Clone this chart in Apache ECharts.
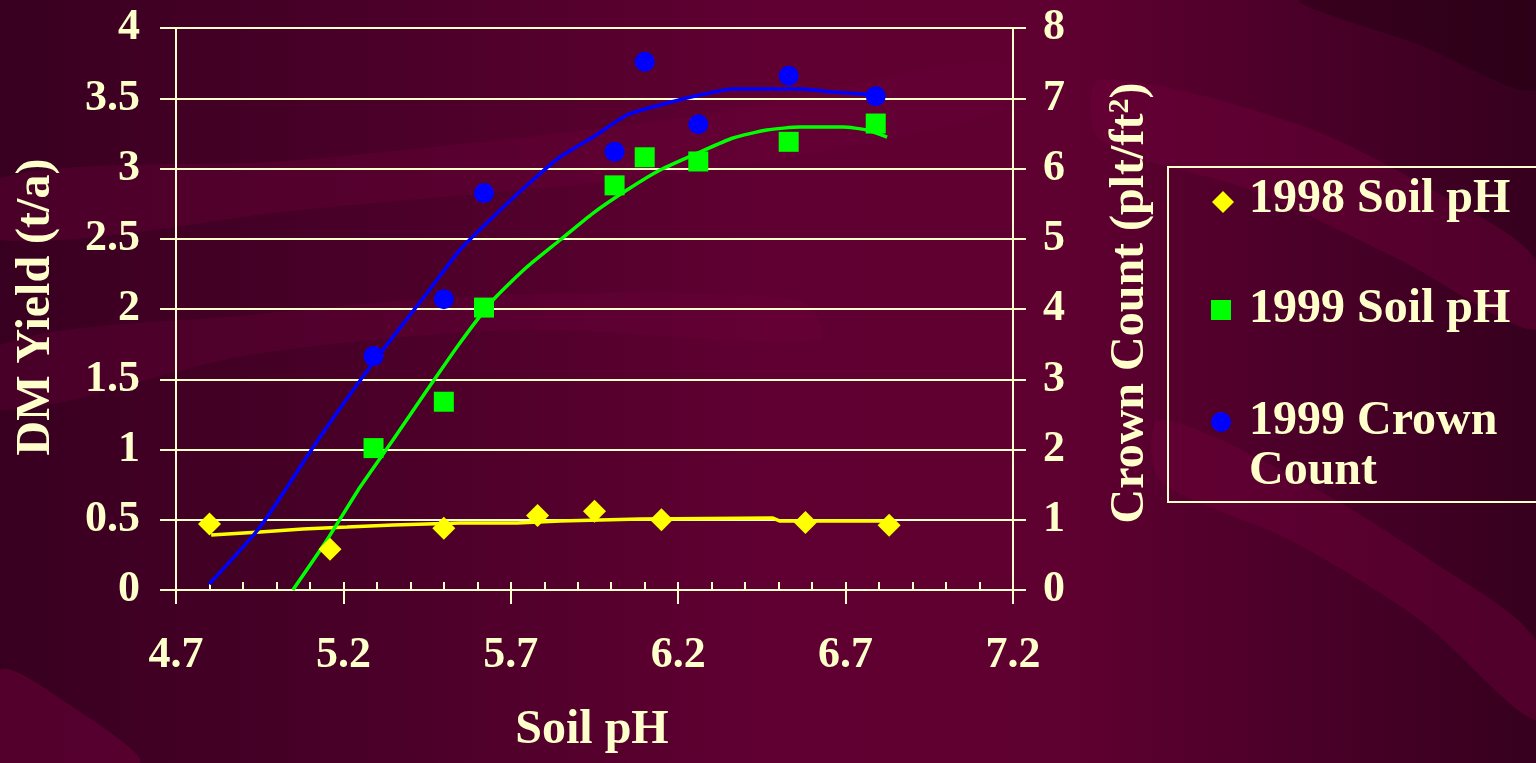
<!DOCTYPE html>
<html>
<head>
<meta charset="utf-8">
<script src="https://cdn.jsdelivr.net/npm/echarts@6/dist/echarts.min.js"></script>
<style>
html,body{margin:0;padding:0;background:#3a0020;}
#chart{width:1536px;height:763px;}
</style>
</head>
<body>
<div id="chart"></div>
<script>
// ---- data ----
const ph1998 = [4.80, 5.16, 5.50, 5.78, 5.95, 6.15, 6.58, 6.83];
const yield1998 = [0.47, 0.29, 0.44, 0.53, 0.56, 0.50, 0.48, 0.46];

const ph1999 = [5.29, 5.50, 5.62, 6.01, 6.10, 6.26, 6.53, 6.79];
const yield1999 = [1.01, 1.34, 2.01, 2.88, 3.08, 3.05, 3.19, 3.32];

const phCrown = [5.29, 5.50, 5.62, 6.01, 6.10, 6.26, 6.53, 6.79];
const crown1999 = [3.33, 4.14, 5.65, 6.24, 7.52, 6.63, 7.32, 7.03];

// trend lines
const trend1998X = [4.805, 4.951, 5.079, 5.211, 5.348, 5.548, 5.719, 5.847, 6.086, 6.483, 6.504, 6.812];
const trend1998Y = [0.391, 0.413, 0.434, 0.448, 0.463, 0.477, 0.477, 0.491, 0.505, 0.512, 0.491, 0.491];

const trend1999X = [5.049, 5.151, 5.250, 5.348, 5.450, 5.548, 5.647, 5.748, 5.847, 5.946, 6.047, 6.146, 6.265, 6.364, 6.465, 6.564, 6.692, 6.764, 6.824];
const trend1999Y = [0.00, 0.356, 0.733, 1.068, 1.423, 1.758, 2.064, 2.299, 2.491, 2.683, 2.847, 2.989, 3.117, 3.217, 3.274, 3.295, 3.295, 3.274, 3.224];

const trendCrownX = [4.799, 4.951, 5.130, 5.288, 5.450, 5.548, 5.647, 5.749, 5.847, 5.946, 6.047, 6.146, 6.265, 6.364, 6.564, 6.662, 6.794];
const trendCrownY = [0.085, 0.897, 2.178, 3.231, 4.228, 4.840, 5.310, 5.765, 6.164, 6.448, 6.762, 6.904, 7.046, 7.132, 7.132, 7.089, 7.046];

const xMin = 4.7, xMax = 7.2, xStep = 0.5;
const yLeftMax = 4, yLeftStep = 0.5;
const yRightMax = 8, yRightStep = 1;

const seriesNames = ['1998 Soil pH', '1999 Soil pH', '1999 Crown\nCount'];
const xTitle = 'Soil pH';
const yLeftTitle = 'DM Yield (t/a)';

// ---- styling ----
const CREAM = '#FFFFCC';
const FONT = '"Liberation Serif", "Times New Roman", serif';
const zip = (a, b) => a.map((v, i) => [v, b[i]]);

const chart = echarts.init(document.getElementById('chart'), null, {renderer: 'canvas'});

const axisLbl = {color: CREAM, fontFamily: FONT, fontWeight: 'bold', fontSize: 44};
const band = (pts, fill) => ({type: 'polygon', z: -10, silent: true, shape: {points: pts, smooth: 0.3}, style: {fill: fill}});

const option = {
  animation: false,
  backgroundColor: {
    type: 'linear', x: 0, y: 0, x2: 1, y2: 0,
    colorStops: [
      {offset: 0, color: '#380020'},
      {offset: 0.3, color: '#4e002a'},
      {offset: 0.5, color: '#600032'},
      {offset: 0.7, color: '#5e0030'},
      {offset: 0.85, color: '#4a0028'},
      {offset: 1, color: '#36001e'}
    ]
  },
  grid: {left: 176, right: 523, top: 28, bottom: 173, containLabel: false},
  xAxis: [
    {
      type: 'value', min: xMin, max: xMax, interval: xStep, position: 'bottom',
      axisLine: {show: true, onZero: false, lineStyle: {color: CREAM, width: 2}},
      axisTick: {show: true, inside: true, length: 8, lineStyle: {color: CREAM, width: 2}},
      minorTick: {show: true, splitNumber: 5, length: 8, lineStyle: {color: CREAM, width: 2}},
      splitLine: {show: false},
      axisLabel: Object.assign({margin: 44, formatter: v => v.toFixed(1)}, axisLbl)
    },
    {
      type: 'value', min: xMin, max: xMax, interval: xStep, position: 'bottom',
      axisLine: {show: false, onZero: false},
      axisTick: {show: true, inside: false, length: 14, lineStyle: {color: CREAM, width: 2}},
      splitLine: {show: false},
      axisLabel: {show: false}
    }
  ],
  yAxis: [
    {
      type: 'value', min: 0, max: yLeftMax, interval: yLeftStep, position: 'left',
      axisLine: {show: true, onZero: false, lineStyle: {color: CREAM, width: 2}},
      axisTick: {show: true, inside: false, length: 16, lineStyle: {color: CREAM, width: 2}},
      splitLine: {show: true, lineStyle: {color: CREAM, width: 2}},
      axisLabel: Object.assign({margin: 36}, axisLbl)
    },
    {
      type: 'value', min: 0, max: yRightMax, interval: yRightStep, position: 'right',
      axisLine: {show: true, onZero: false, lineStyle: {color: CREAM, width: 2}},
      axisTick: {show: true, inside: false, length: 13, lineStyle: {color: CREAM, width: 2}},
      splitLine: {show: false},
      axisLabel: Object.assign({margin: 30}, axisLbl)
    }
  ],
  series: [
    {name: 'trend1998', type: 'line', xAxisIndex: 0, yAxisIndex: 0, data: zip(trend1998X, trend1998Y),
     showSymbol: false, silent: true, lineStyle: {color: '#FFFF00', width: 3.5, opacity: 1}, z: 3},
    {name: 'trend1999', type: 'line', xAxisIndex: 0, yAxisIndex: 0, data: zip(trend1999X, trend1999Y),
     showSymbol: false, silent: true, smooth: 0.2, lineStyle: {color: '#00FF00', width: 3.5, opacity: 1}, z: 3},
    {name: 'trendCrown', type: 'line', xAxisIndex: 0, yAxisIndex: 1, data: zip(trendCrownX, trendCrownY),
     showSymbol: false, silent: true, smooth: 0.2, lineStyle: {color: '#0000FF', width: 3.5, opacity: 1}, z: 3},
    {name: seriesNames[0], type: 'scatter', xAxisIndex: 0, yAxisIndex: 0, data: zip(ph1998, yield1998),
     symbol: 'diamond', symbolSize: 23, itemStyle: {color: '#FFFF00', opacity: 1}, z: 5},
    {name: seriesNames[1], type: 'scatter', xAxisIndex: 0, yAxisIndex: 0, data: zip(ph1999, yield1999),
     symbol: 'rect', symbolSize: 20, itemStyle: {color: '#00FF00', opacity: 1}, z: 5},
    {name: seriesNames[2], type: 'scatter', xAxisIndex: 0, yAxisIndex: 1, data: zip(phCrown, crown1999),
     symbol: 'circle', symbolSize: 20, itemStyle: {color: '#0000FF', opacity: 1}, z: 5}
  ],
  graphic: [
    // decorative background bands
    band([[0,178],[300,160],[700,115],[1000,60],[1000,110],[700,170],[300,210],[0,240]], 'rgba(110,0,58,0.35)'),
    band([[0,345],[250,315],[500,295],[800,300],[820,340],[520,330],[250,355],[0,410]], 'rgba(110,0,58,0.30)'),
    band([[0,670],[70,705],[140,763],[0,763]], 'rgba(110,0,58,0.5)'),
    band([[1100,80],[1300,125],[1450,200],[1536,260],[1536,330],[1400,260],[1250,190],[1100,140]], 'rgba(110,0,58,0.45)'),
    band([[1160,420],[1300,480],[1430,560],[1536,640],[1536,720],[1420,620],[1290,540],[1160,480]], 'rgba(110,0,58,0.45)'),
    band([[1300,0],[1536,0],[1536,90],[1420,45]], 'rgba(30,0,15,0.4)'),

    // axis titles
    {type: 'text', x: 592, y: 731, silent: true,
     style: {text: xTitle, fill: CREAM, font: 'bold 48px ' + FONT, align: 'center', verticalAlign: 'middle'}},
    {type: 'text', x: 37, y: 307, rotation: Math.PI / 2, silent: true,
     style: {text: yLeftTitle, fill: CREAM, font: 'bold 48px ' + FONT, align: 'center', verticalAlign: 'middle'}},
    {type: 'text', x: 1131, y: 303, rotation: Math.PI / 2, silent: true,
     style: {text: '{a|Crown Count (plt/ft}{s|2}{a|)}', align: 'center', verticalAlign: 'middle',
       rich: {
         a: {fill: CREAM, fontFamily: FONT, fontWeight: 'bold', fontSize: 48, lineHeight: 52},
         s: {fill: CREAM, fontFamily: FONT, fontWeight: 'bold', fontSize: 30, lineHeight: 52, verticalAlign: 'top'}
       }}},

    // legend
    {type: 'rect', silent: true, shape: {x: 1168, y: 167, width: 420, height: 335},
     style: {fill: 'none', stroke: CREAM, lineWidth: 2}},
    {type: 'polygon', silent: true, shape: {points: [[1223, 191], [1234, 202], [1223, 213], [1212, 202]]},
     style: {fill: '#FFFF00'}},
    {type: 'rect', silent: true, shape: {x: 1211, y: 300, width: 20, height: 20}, style: {fill: '#00FF00'}},
    {type: 'circle', silent: true, shape: {cx: 1221, cy: 422, r: 10}, style: {fill: '#0000FF'}},
    {type: 'text', x: 1249, y: 200, silent: true,
     style: {text: seriesNames[0], fill: CREAM, font: 'bold 48px ' + FONT, align: 'left', verticalAlign: 'middle'}},
    {type: 'text', x: 1249, y: 310, silent: true,
     style: {text: seriesNames[1], fill: CREAM, font: 'bold 48px ' + FONT, align: 'left', verticalAlign: 'middle'}},
    {type: 'text', x: 1249, y: 447, silent: true,
     style: {text: seriesNames[2], fill: CREAM, font: 'bold 48px ' + FONT, lineHeight: 50, align: 'left', verticalAlign: 'middle'}}
  ]
};

chart.setOption(option);
</script>
</body>
</html>
